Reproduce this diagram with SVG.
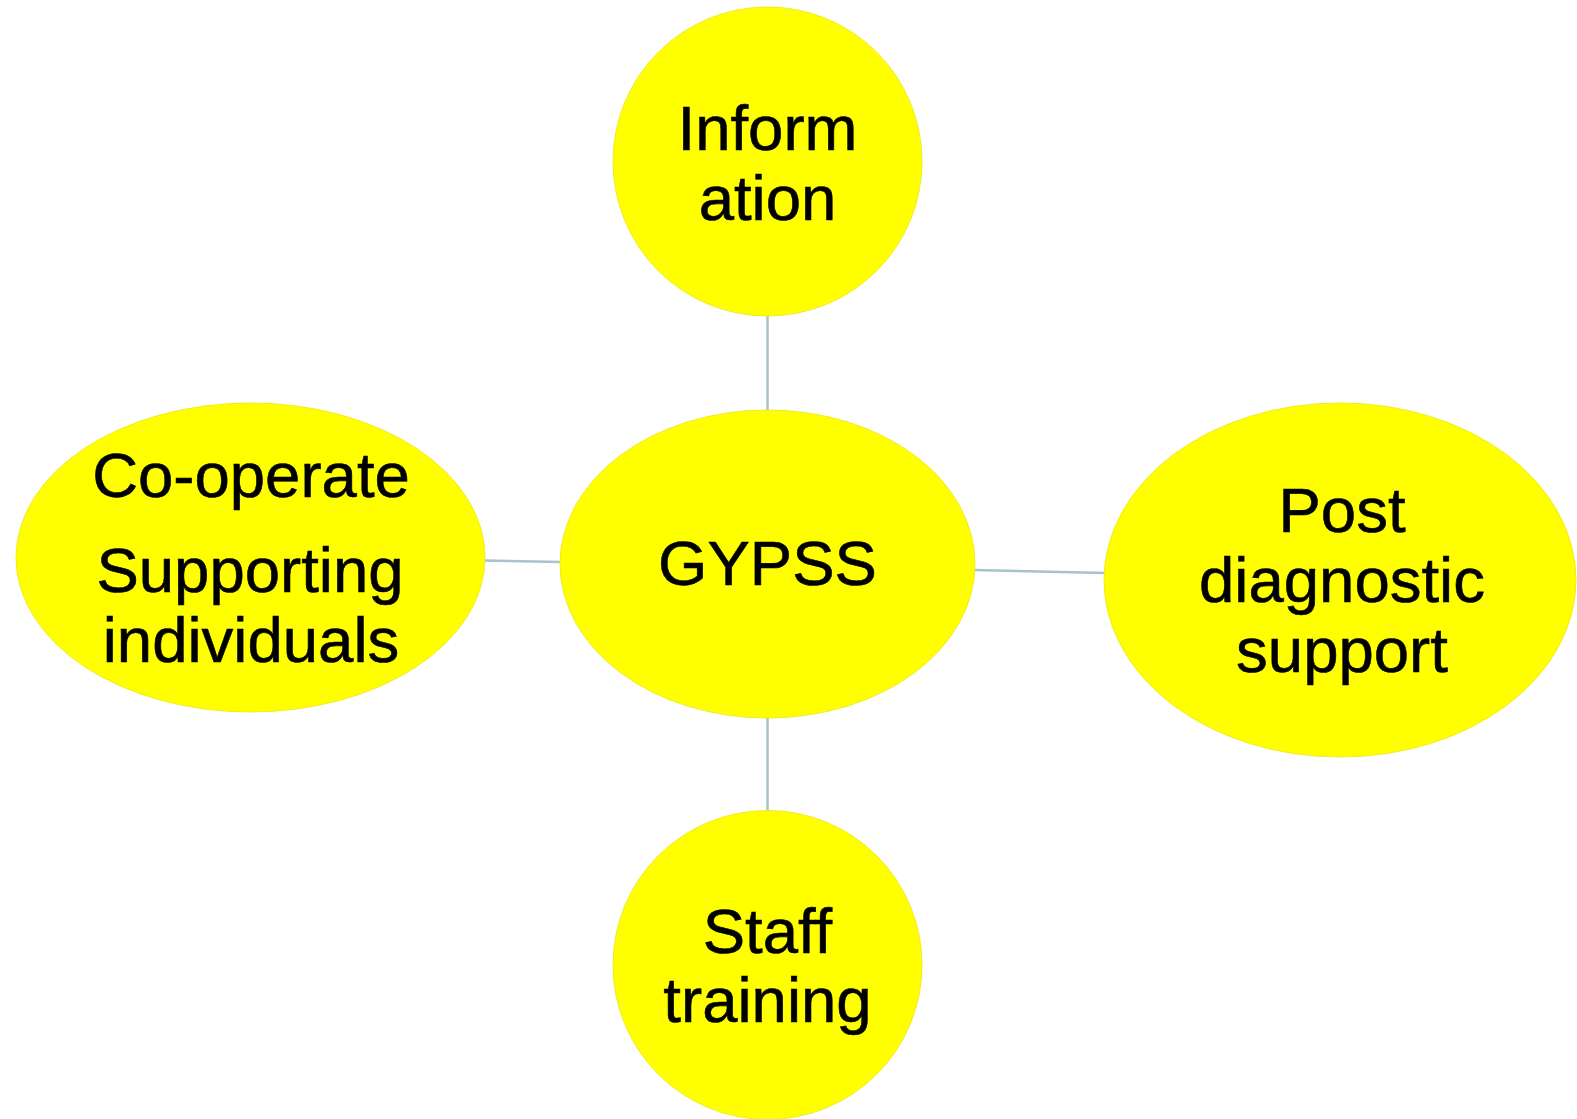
<svg xmlns="http://www.w3.org/2000/svg" width="1577" height="1119" viewBox="0 0 1577 1119">
<style>
.node{fill:#ffff00;stroke:#f0ec20;stroke-width:1}
.lbl{font-family:"Liberation Sans",Arial,sans-serif;font-size:63.5px;fill:#000;stroke:#000;stroke-width:0.6;text-anchor:middle}
.conn{stroke:#a9c3ca;stroke-width:2.5;fill:none}
</style>
<rect width="1577" height="1119" fill="#fff"/>
<g id="connectors">
<line class="conn" x1="767.5" y1="314" x2="767.5" y2="412"/>
<line class="conn" x1="767.5" y1="716" x2="767.5" y2="814"/>
<line class="conn" x1="483" y1="560.5" x2="562" y2="562"/>
<line class="conn" x1="973" y1="570" x2="1106" y2="573"/>
</g>
<g id="node-information">
<circle class="node" cx="767.5" cy="161.5" r="154.5"/>
<text class="lbl" x="767.5" y="150">Inform</text>
<text class="lbl" x="767.5" y="220">ation</text>
</g>
<g id="node-gypss">
<ellipse class="node" cx="767.5" cy="564" rx="207.5" ry="154"/>
<text class="lbl" x="767.5" y="585">GYPSS</text>
</g>
<g id="node-cooperate">
<ellipse class="node" cx="250.5" cy="557.5" rx="234.5" ry="154.5"/>
<text class="lbl" x="251" y="497">Co-operate</text>
<text class="lbl" x="250" y="592">Supporting</text>
<text class="lbl" x="251" y="662">individuals</text>
</g>
<g id="node-post">
<ellipse class="node" cx="1340" cy="580" rx="236" ry="177"/>
<text class="lbl" x="1342" y="532">Post</text>
<text class="lbl" x="1342" y="602">diagnostic</text>
<text class="lbl" x="1342" y="672">support</text>
</g>
<g id="node-staff">
<circle class="node" cx="767.5" cy="965" r="154.5"/>
<text class="lbl" x="767.5" y="953">Staff</text>
<text class="lbl" x="767.5" y="1022">training</text>
</g>
</svg>
